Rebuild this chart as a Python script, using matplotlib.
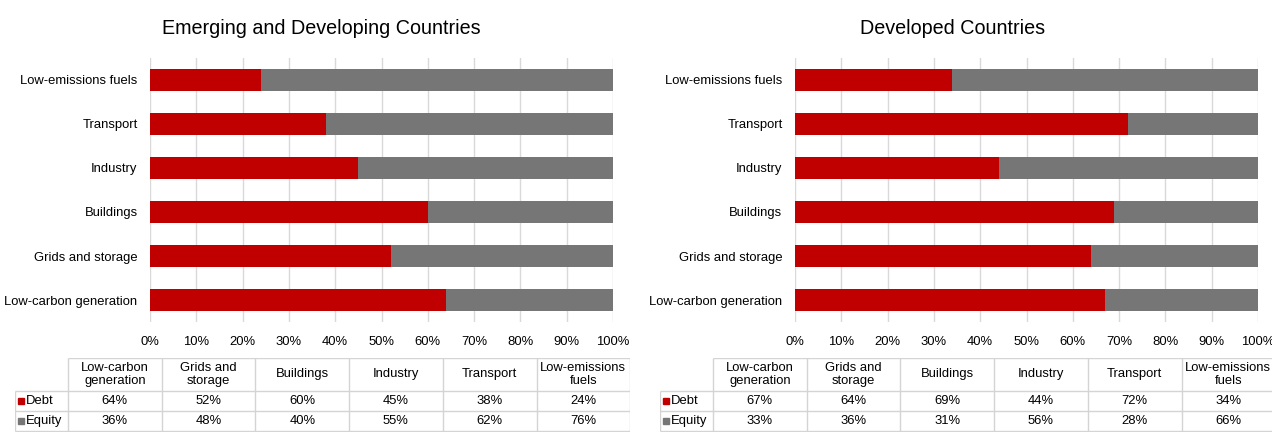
import numpy as np
import matplotlib.pyplot as plt

plt.rcParams['font.family'] = ['Liberation Sans', 'DejaVu Sans']

# sectors bottom to top, as they appear on the y axis
sectors = ["Low-carbon generation", "Grids and storage", "Buildings",
           "Industry", "Transport", "Low-emissions fuels"]
table_headers = ["Low-carbon\ngeneration", "Grids and\nstorage", "Buildings",
                 "Industry", "Transport", "Low-emissions\nfuels"]
series_names = ["Debt", "Equity"]

edc_debt = [64, 52, 60, 45, 38, 24]
edc_equity = [36, 48, 40, 55, 62, 76]
dev_debt = [67, 64, 69, 44, 72, 34]
dev_equity = [33, 36, 31, 56, 28, 66]

titles = ["Emerging and Developing Countries", "Developed Countries"]
pct_ticks = list(range(0, 101, 10))

RED = "#C00000"
GREY = "#767676"
GRID = "#D9D9D9"
LINE = "#D4D4D4"
FS = 9.4

W, H = 1272, 432


def box(x0, y0, x1, y1):
    # pixel box (top-left origin) -> figure fraction rect
    return [x0 / W, 1 - y1 / H, (x1 - x0) / W, (y1 - y0) / H]


def draw_bars(ax, debt, equity):
    y = np.arange(len(sectors))
    ax.barh(y, debt, height=0.5, color=RED, zorder=3)
    ax.barh(y, equity, left=debt, height=0.5, color=GREY, zorder=3)
    ax.set_xlim(0, 100)
    ax.set_ylim(-0.5, len(sectors) - 0.5)
    ax.set_yticks(y)
    ax.set_yticklabels(sectors, fontsize=FS)
    ax.set_xticks(pct_ticks)
    ax.set_xticklabels([f"{t}%" for t in pct_ticks], fontsize=FS)
    ax.tick_params(axis="y", length=0, pad=9)
    ax.tick_params(axis="x", length=0, pad=10)
    for t in pct_ticks:
        ax.axvline(t, color=GRID, lw=1, zorder=1)
    for s in ax.spines.values():
        s.set_visible(False)


def draw_table(ax, debt, equity):
    # coordinates in pixels inside the table box
    label_w = 53
    col_w = 93.7
    top, head_bot, mid, bot = 0, 33, 53, 73
    ncol = len(table_headers)
    right = label_w + ncol * col_w
    ax.set_xlim(0, right)
    ax.set_ylim(bot + 1, 0)
    ax.axis("off")

    kw = dict(color=LINE, lw=1, solid_capstyle="butt")
    ax.plot([label_w, right], [top, top], **kw)
    for yy in (head_bot, mid, bot):
        ax.plot([0, right], [yy, yy], **kw)
    ax.plot([0, 0], [head_bot, bot], **kw)
    for i in range(ncol + 1):
        x = label_w + i * col_w
        ax.plot([x, x], [top, bot], **kw)

    for i, h in enumerate(table_headers):
        xc = label_w + (i + 0.5) * col_w
        ax.text(xc, (top + head_bot) / 2, h, ha="center", va="center",
                fontsize=FS, linespacing=1.1)
        ax.text(xc, (head_bot + mid) / 2, f"{debt[i]}%", ha="center",
                va="center", fontsize=FS)
        ax.text(xc, (mid + bot) / 2, f"{equity[i]}%", ha="center",
                va="center", fontsize=FS)

    for (y0, y1), name, col in zip([(head_bot, mid), (mid, bot)],
                                   series_names, [RED, GREY]):
        yc = (y0 + y1) / 2
        ax.plot(6, yc, marker="s", ms=4.5, color=col, mec=col)
        ax.text(11, yc, name, ha="left", va="center", fontsize=FS)


fig = plt.figure(figsize=(W / 100, H / 100), dpi=100)

panels = [(0, edc_debt, edc_equity, 321), (645, dev_debt, dev_equity, 953)]
for (off, debt, equity, title_x), title in zip(panels, titles):
    ax = fig.add_axes(box(150 + off, 58, 613 + off, 322))
    draw_bars(ax, debt, equity)
    fig.text(title_x / W, 1 - 28 / H, title, ha="center", va="center",
             fontsize=14.2)
    tab = fig.add_axes(box(15 + off, 358, 15 + off + 53 + 6 * 93.7, 432))
    draw_table(tab, debt, equity)

fig.savefig("out.png", dpi=100)
